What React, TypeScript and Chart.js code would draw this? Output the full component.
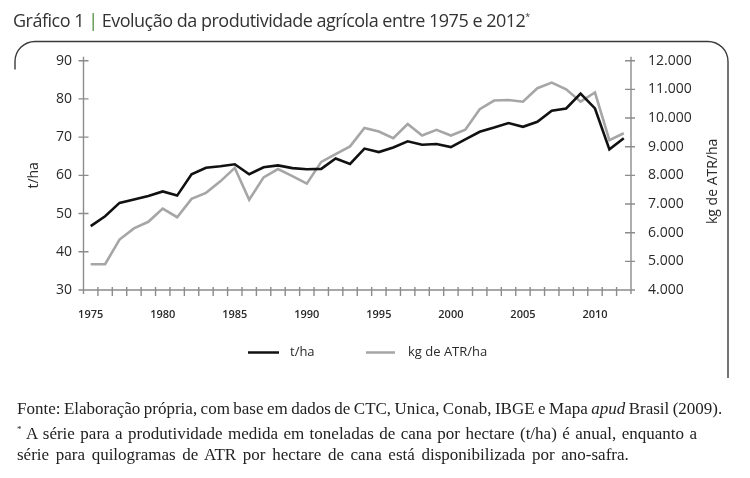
import React, { useEffect, useRef } from "react";
import { Chart, registerables } from "chart.js";

Chart.register(...registerables);

// Years 1975–2012
const years: string[] = [
  "1975", "1976", "1977", "1978", "1979", "1980", "1981", "1982", "1983", "1984",
  "1985", "1986", "1987", "1988", "1989", "1990", "1991", "1992", "1993", "1994",
  "1995", "1996", "1997", "1998", "1999", "2000", "2001", "2002", "2003", "2004",
  "2005", "2006", "2007", "2008", "2009", "2010", "2011", "2012",
];

// Productivity in tonnes of cane per hectare (left axis)
const tonnesPerHa: number[] = [
  46.7, 49.3, 52.8, 53.7, 54.6, 55.8, 54.7, 60.3, 62.0, 62.4,
  62.9, 60.3, 62.1, 62.6, 61.9, 61.6, 61.7, 64.4, 63.0, 67.0,
  66.1, 67.3, 68.9, 68.0, 68.2, 67.4, 69.4, 71.4, 72.5, 73.7,
  72.7, 74.0, 76.9, 77.5, 81.4, 77.5, 66.8, 69.7,
];

// Kilograms of ATR per hectare (right axis)
const kgAtrPerHa: number[] = [
  4900, 4900, 5760, 6150, 6380, 6840, 6540, 7180, 7390, 7790,
  8260, 7150, 7930, 8220, 7970, 7710, 8470, 8740, 9010, 9650,
  9530, 9300, 9790, 9390, 9590, 9390, 9590, 10310, 10610, 10630,
  10570, 11040, 11235, 11000, 10570, 10890, 9230, 9470,
];

const leftTicks = { min: 30, max: 90, step: 10 };
const rightTicks = { min: 4000, max: 12000, step: 1000 };

const seriesNames = ["t/ha", "kg de ATR/ha"];
const axisTitles = { left: "t/ha", right: "kg de ATR/ha" };

const SANS = "'Open Sans', 'Noto Sans', sans-serif";
const SERIF = "'Liberation Serif', 'Times New Roman', serif";
const AXIS_COLOR = "#8c8c8c";
const TEXT_COLOR = "#2a2a2a";
const BLACK_LINE = "#111111";
const GRAY_LINE = "#a6a6a6";

// Frame, axis lines with crossing tick marks, axis titles and legend
const decorations = {
  id: "decorations",
  beforeDraw(chart: any) {
    const ctx = chart.ctx;
    ctx.save();
    const top = 41.5, left = 15, right = 728, r = 20;
    ctx.strokeStyle = "#3a3a3a";
    ctx.lineWidth = 1.4;
    ctx.beginPath();
    ctx.moveTo(left, top + r + 8);
    ctx.arcTo(left, top, left + r, top, r);
    ctx.lineTo(right - r, top);
    ctx.arcTo(right, top, right, top + r, r);
    ctx.lineTo(right, 378);
    ctx.stroke();
    ctx.restore();
  },
  beforeDatasetsDraw(chart: any) {
    const ctx = chart.ctx;
    const { left, right, top, bottom } = chart.chartArea;
    const x = chart.scales.x;
    const yl = chart.scales.y;
    const yr = chart.scales.y1;
    ctx.save();
    ctx.strokeStyle = AXIS_COLOR;
    ctx.lineWidth = 1.4;
    ctx.beginPath();
    ctx.moveTo(left, top - 4);
    ctx.lineTo(left, bottom + 4);
    ctx.moveTo(right, top - 4);
    ctx.lineTo(right, bottom + 4);
    ctx.moveTo(left - 4, bottom);
    ctx.lineTo(right + 4, bottom);
    yl.ticks.forEach((t: any) => {
      const py = yl.getPixelForValue(t.value);
      ctx.moveTo(left - 5, py);
      ctx.lineTo(left + 5, py);
    });
    yr.ticks.forEach((t: any) => {
      const py = yr.getPixelForValue(t.value);
      ctx.moveTo(right - 6, py);
      ctx.lineTo(right + 4, py);
    });
    for (let i = 1; i < years.length; i++) {
      const px = (x.getPixelForValue(i - 1) + x.getPixelForValue(i)) / 2;
      ctx.moveTo(px, bottom - 3);
      ctx.lineTo(px, bottom + 6);
    }
    ctx.stroke();

    ctx.fillStyle = TEXT_COLOR;
    ctx.font = `14px ${SANS}`;
    ctx.textAlign = "center";
    ctx.textBaseline = "middle";
    ctx.save();
    ctx.translate(34, (top + bottom) / 2);
    ctx.rotate(-Math.PI / 2);
    ctx.fillText(axisTitles.left, 0, 0);
    ctx.restore();
    ctx.save();
    ctx.translate(713, (top + bottom) / 2 + 6);
    ctx.rotate(-Math.PI / 2);
    ctx.fillText(axisTitles.right, 0, 0);
    ctx.restore();
    ctx.restore();
  },
  afterDraw(chart: any) {
    const ctx = chart.ctx;
    const y = 352.5;
    ctx.save();
    ctx.lineWidth = 2.5;
    ctx.strokeStyle = BLACK_LINE;
    ctx.beginPath();
    ctx.moveTo(248, y);
    ctx.lineTo(279, y);
    ctx.stroke();
    ctx.strokeStyle = GRAY_LINE;
    ctx.beginPath();
    ctx.moveTo(366, y);
    ctx.lineTo(395, y);
    ctx.stroke();
    ctx.fillStyle = TEXT_COLOR;
    ctx.font = `500 13px ${SANS}`;
    ctx.textAlign = "left";
    ctx.textBaseline = "middle";
    ctx.fillText(seriesNames[0], 290, y);
    ctx.fillText(seriesNames[1], 408, y);
    ctx.restore();
  },
};

function formatThousands(v: number): string {
  return String(v).replace(/\B(?=(\d{3})+(?!\d))/g, ".");
}

export default function App() {
  const canvasRef = useRef<HTMLCanvasElement | null>(null);

  useEffect(() => {
    const canvas = canvasRef.current;
    if (!canvas) return;
    const chart = new Chart(canvas, {
      type: "line",
      data: {
        labels: years,
        datasets: [
          {
            label: seriesNames[0],
            data: tonnesPerHa,
            yAxisID: "y",
            borderColor: BLACK_LINE,
            borderWidth: 2.6,
            pointRadius: 0,
            tension: 0,
            borderJoinStyle: "miter",
          },
          {
            label: seriesNames[1],
            data: kgAtrPerHa,
            yAxisID: "y1",
            borderColor: GRAY_LINE,
            borderWidth: 2.6,
            pointRadius: 0,
            tension: 0,
            borderJoinStyle: "miter",
          },
        ],
      },
      options: {
        responsive: false,
        animation: false,
        devicePixelRatio: 1,
        layout: { padding: { top: 60.7, left: 0, right: 0, bottom: 0 } },
        plugins: {
          legend: { display: false },
          tooltip: { enabled: false },
        },
        scales: {
          x: {
            type: "category",
            offset: true,
            grid: { display: false, drawTicks: false },
            border: { display: false },
            afterFit: (s: any) => {
              s.height = 478 - 290;
            },
            ticks: {
              autoSkip: false,
              maxRotation: 0,
              padding: 18,
              color: TEXT_COLOR,
              font: { family: SANS, size: 11, weight: 600 },
              callback: (_v: any, i: number) =>
                Number(years[i]) % 5 === 0 ? years[i] : "",
            },
          },
          y: {
            position: "left",
            min: leftTicks.min,
            max: leftTicks.max,
            grid: { display: false, drawTicks: false },
            border: { display: false },
            afterFit: (s: any) => {
              s.width = 83.5;
            },
            ticks: {
              stepSize: leftTicks.step,
              padding: 11.5,
              color: TEXT_COLOR,
              font: { family: SANS, size: 14 },
            },
          },
          y1: {
            position: "right",
            min: rightTicks.min,
            max: rightTicks.max,
            grid: { display: false, drawTicks: false },
            border: { display: false },
            afterFit: (s: any) => {
              s.width = 750 - 631;
            },
            ticks: {
              stepSize: rightTicks.step,
              padding: 17,
              color: TEXT_COLOR,
              font: { family: SANS, size: 14 },
              callback: (v: any) => formatThousands(Number(v)),
            },
          },
        },
      },
      plugins: [decorations],
    });
    return () => chart.destroy();
  }, []);

  return (
    <div
      style={{
        position: "absolute",
        left: 0,
        top: 0,
        width: 750,
        height: 478,
        background: "#fff",
        overflow: "hidden",
      }}
    >
      <canvas
        ref={canvasRef}
        width={750}
        height={478}
        style={{ position: "absolute", left: 0, top: 0, display: "block" }}
      />
      <div
        style={{
          position: "absolute",
          left: 13,
          top: 8,
          fontFamily: SANS,
          fontSize: 18,
          color: "#333",
          whiteSpace: "nowrap",
          letterSpacing: -0.5,
        }}
      >
        Gráfico 1 <span style={{ color: "#4b8b3b" }}>|</span> Evolução da
        produtividade agrícola entre 1975 e 2012
        <sup style={{ fontSize: 9 }}>*</sup>
      </div>
      <div
        style={{
          position: "absolute",
          left: 17,
          top: 398,
          fontFamily: SERIF,
          fontSize: 17,
          lineHeight: "21px",
          color: "#222",
          whiteSpace: "nowrap",
        }}
      >
        <div style={{ wordSpacing: -0.8 }}>
          Fonte: Elaboração própria, com base em dados de CTC, Unica, Conab,
          IBGE e Mapa <i>apud</i> Brasil (2009).
        </div>
        <div style={{ wordSpacing: 1.2 }}>
          <sup style={{ fontSize: 9 }}>*</sup> A série para a produtividade
          medida em toneladas de cana por hectare (t/ha) é anual, enquanto a
        </div>
        <div style={{ wordSpacing: 2.4 }}>
          série para quilogramas de ATR por hectare de cana está disponibilizada
          por ano-safra.
        </div>
      </div>
    </div>
  );
}
